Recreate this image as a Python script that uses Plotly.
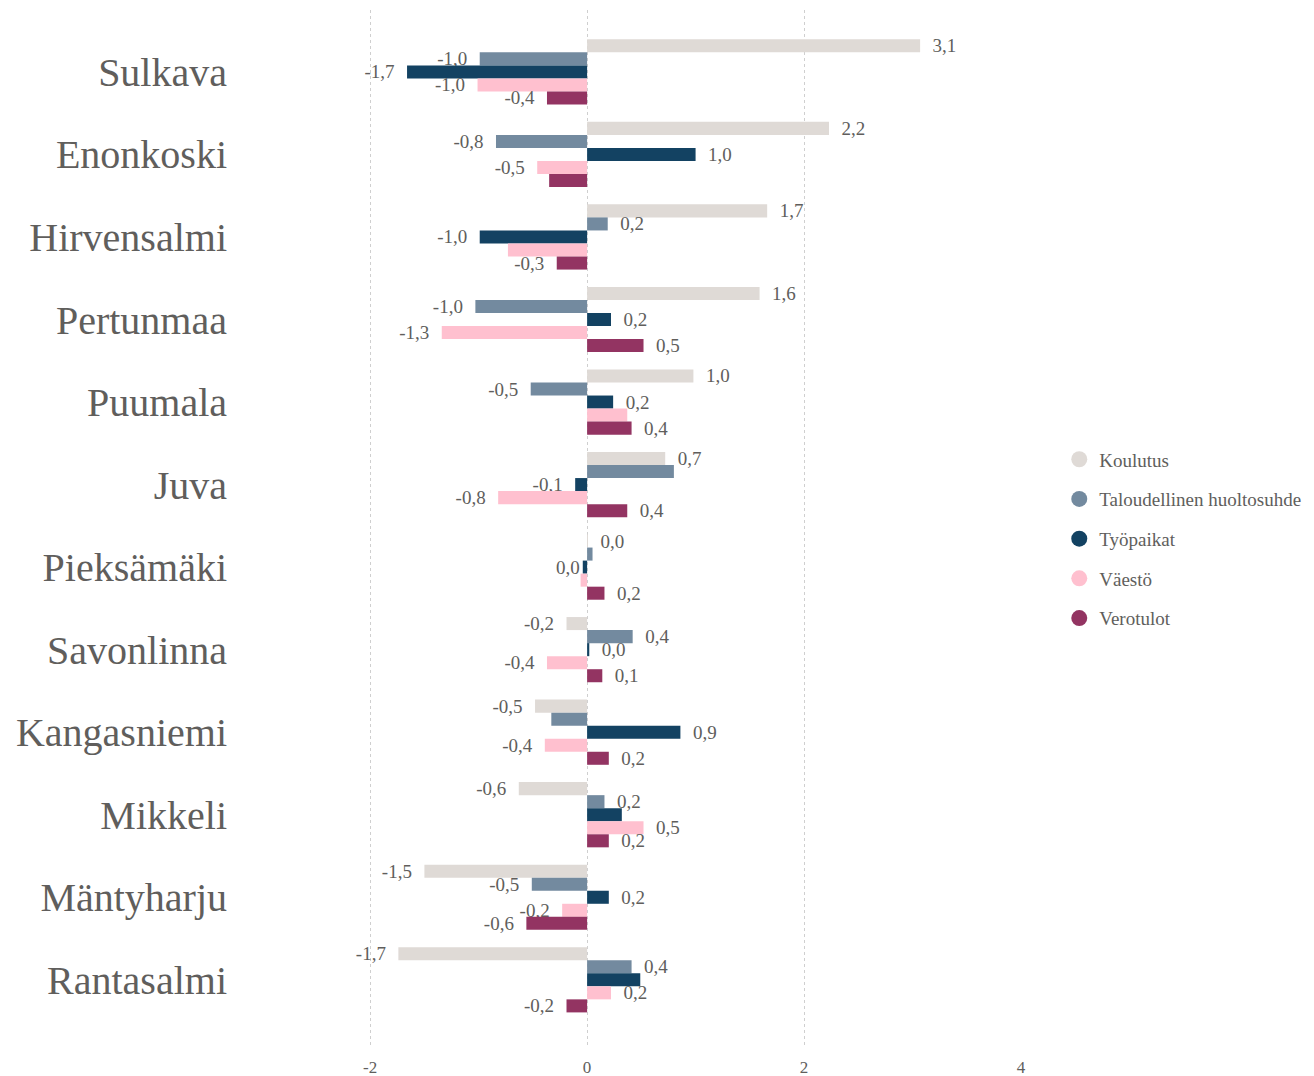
import plotly.graph_objects as go

municipalities = ["Sulkava", "Enonkoski", "Hirvensalmi", "Pertunmaa", "Puumala", "Juva",
                  "Pieksämäki", "Savonlinna", "Kangasniemi", "Mikkeli", "Mäntyharju", "Rantasalmi"]

series_names = ["Koulutus", "Taloudellinen huoltosuhde", "Työpaikat", "Väestö", "Verotulot"]

koulutus = [3.07, 2.23, 1.66, 1.59, 0.98, 0.72, 0.004, -0.19, -0.48, -0.63, -1.50, -1.74]
taloudellinen = [-0.99, -0.84, 0.19, -1.03, -0.52, 0.80, 0.05, 0.42, -0.33, 0.16, -0.51, 0.41]
tyopaikat = [-1.66, 1.00, -0.99, 0.22, 0.24, -0.11, -0.04, 0.02, 0.86, 0.32, 0.20, 0.49]
vaesto = [-1.01, -0.46, -0.73, -1.34, 0.37, -0.82, -0.06, -0.37, -0.39, 0.52, -0.23, 0.22]
verotulot = [-0.37, -0.35, -0.28, 0.52, 0.41, 0.37, 0.16, 0.14, 0.20, 0.20, -0.56, -0.19]

series_values = [koulutus, taloudellinen, tyopaikat, vaesto, verotulot]
colors = ["#DFDAD6", "#738A9F", "#134262", "#FFC0CF", "#933462"]

# labels that the reference chart does not show (overlap-hidden)
hidden_labels = [("Enonkoski", "Verotulot"), ("Hirvensalmi", "Väestö"), ("Puumala", "Väestö"),
                 ("Juva", "Taloudellinen huoltosuhde"), ("Pieksämäki", "Taloudellinen huoltosuhde"),
                 ("Pieksämäki", "Väestö"), ("Kangasniemi", "Taloudellinen huoltosuhde"),
                 ("Mikkeli", "Työpaikat"), ("Rantasalmi", "Työpaikat")]

FONT = "Liberation Serif, Times New Roman, serif"
TXT = "#605E5C"
PAD = "\u00a0\u00a0"


def fmt(v):
    r = round(v, 1)
    if r == 0:
        r = 0.0
    s = f"{abs(r):.1f}".replace(".", ",")
    return PAD + s if r >= 0 else "-" + s + PAD


fig = go.Figure()
for name, vals, col in zip(series_names, series_values, colors):
    texts = ["" if (m, name) in hidden_labels else fmt(v) for m, v in zip(municipalities, vals)]
    fig.add_trace(go.Bar(
        y=municipalities, x=vals, orientation="h", name=name,
        marker=dict(color=col, line=dict(width=0)),
        text=texts, textposition="outside", constraintext="none", cliponaxis=False,
        textfont=dict(family=FONT, size=19, color=TXT),
        showlegend=False, hoverinfo="x+y+name",
    ))
    fig.add_trace(go.Scatter(
        x=[None], y=[None], mode="markers", name=name, legendgroup=name,
        marker=dict(symbol="circle", size=17, color=col), showlegend=True,
    ))

fig.update_layout(
    width=1306, height=1068,
    margin=dict(l=232, r=293, t=2, b=31, autoexpand=False),
    paper_bgcolor="white", plot_bgcolor="white",
    barmode="group", bargap=0.21, bargroupgap=0,
    font=dict(family=FONT, color=TXT),
    legend=dict(x=1.049, y=0.489, xanchor="left", yanchor="middle",
                font=dict(family=FONT, size=19, color=TXT),
                tracegroupgap=12, itemwidth=30, bgcolor="rgba(0,0,0,0)"),
    xaxis=dict(range=[-3.2, 4.0], tickvals=[-2, 0, 2, 4], ticktext=["-2", "0", "2", "4"],
               showgrid=True, gridcolor="#CFCFCF", griddash="dot", gridwidth=1,
               zeroline=False, showline=False, ticks="", ticklabelstandoff=10,
               tickfont=dict(family=FONT, size=17, color=TXT)),
    yaxis=dict(type="category", categoryorder="array", categoryarray=municipalities,
               range=[11.79, -0.75], showgrid=False, zeroline=False, showline=False,
               ticks="", ticklabelstandoff=12,
               tickfont=dict(family=FONT, size=40, color=TXT)),
)

fig.write_html("out.html")
